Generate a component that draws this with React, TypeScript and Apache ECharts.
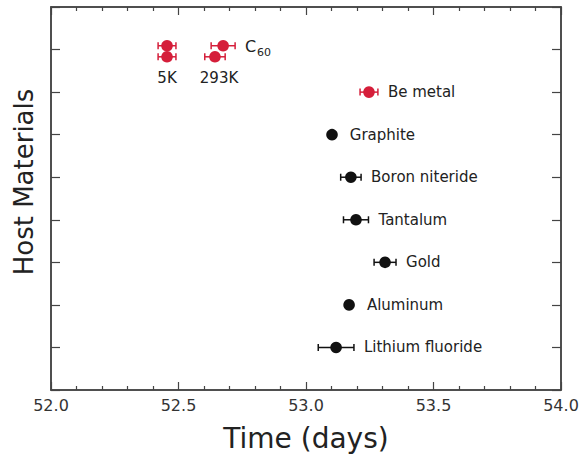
import React, { useEffect, useRef } from "react";
import * as echarts from "echarts";

// Host materials (rows 1..7 on the value axis, bottom to top)
const materialNames = ["Lithium fluoride", "Aluminum", "Gold", "Tantalum", "Boron niteride", "Graphite", "Be metal"];
const materialRows = [1, 2, 3, 4, 5, 6, 7];
const materialTimes = [53.118, 53.169, 53.31, 53.196, 53.176, 53.102, 53.247];
const materialErrors = [0.07, 0.012, 0.043, 0.049, 0.04, 0.012, 0.035];
const highlightedMaterials = ["Be metal"];

// C60 measurements (row 8)
const c60Temps = ["5K", "5K", "293K", "293K"];
const c60Times = [52.455, 52.455, 52.675, 52.643];
const c60Rows = [8.09, 7.83, 8.09, 7.83];
const c60Errors = [0.035, 0.035, 0.047, 0.04];

const xTicks = { min: 52, max: 54, interval: 0.5 };
const yTicks = { min: 0, max: 9, interval: 1 };

const RED = "#d51e3a";
const BLACK = "#111111";
const FONT = "DejaVu Sans";
const AXIS = "#444444";

const GRID = { left: 51, right: 22, top: 7, bottom: 71 };

export default function App() {
  const ref = useRef<HTMLDivElement>(null);
  useEffect(() => {
    if (!ref.current) return;
    const chart = echarts.init(ref.current, null, { renderer: "svg" });

    const R = 5.8;
    const errPoint = (color: string, labelOf: (i: number) => string | null) => (params: any, api: any) => {
      const x = api.value(0), y = api.value(1), err = api.value(2);
      const c = api.coord([x, y]);
      const l = api.coord([x - err, y]);
      const r = api.coord([x + err, y]);
      const children: any[] = [];
      const ls = { stroke: color, lineWidth: 1.5 };
      if (r[0] - l[0] > 2 * R) {
        children.push({ type: "line", shape: { x1: l[0], y1: c[1], x2: r[0], y2: c[1] }, style: ls });
        children.push({ type: "line", shape: { x1: l[0], y1: c[1] - 3.5, x2: l[0], y2: c[1] + 3.5 }, style: ls });
        children.push({ type: "line", shape: { x1: r[0], y1: c[1] - 3.5, x2: r[0], y2: c[1] + 3.5 }, style: ls });
      }
      children.push({ type: "circle", shape: { cx: c[0], cy: c[1], r: R }, style: { fill: color } });
      const label = labelOf(params.dataIndex);
      if (label) {
        const end = Math.max(r[0], c[0] + R + 2);
        children.push({
          type: "text",
          x: end + 10,
          y: c[1],
          style: { text: label, fill: "#222", fontSize: 15, fontFamily: FONT, align: "left", verticalAlign: "middle" },
        });
      }
      return { type: "group", children };
    };

    const blackIdx = materialNames.map((n, i) => i).filter((i) => !highlightedMaterials.includes(materialNames[i]));
    const redIdx = materialNames.map((n, i) => i).filter((i) => highlightedMaterials.includes(materialNames[i]));

    // C60 label sits at the right-most error bar end
    let c60LabelIdx = 0;
    c60Times.forEach((t, i) => {
      if (t + c60Errors[i] > c60Times[c60LabelIdx] + c60Errors[c60LabelIdx]) c60LabelIdx = i;
    });

    const tempNames = Array.from(new Set(c60Temps));
    const tempData = tempNames.map((t) => {
      const idx = c60Temps.map((v, i) => i).filter((i) => c60Temps[i] === t);
      const mx = idx.reduce((s, i) => s + c60Times[i], 0) / idx.length;
      const my = Math.min(...idx.map((i) => c60Rows[i]));
      return [mx, my];
    });

    const mkX = (pos: string) => ({
      type: "value",
      position: pos,
      min: xTicks.min,
      max: xTicks.max,
      interval: xTicks.interval,
      axisLine: { show: true, onZero: false, lineStyle: { color: AXIS, width: 1.5 } },
      axisTick: { show: true, inside: true, length: 8, lineStyle: { color: AXIS, width: 1.2 } },
      minorTick: { show: true, splitNumber: 5, length: 4, lineStyle: { color: AXIS, width: 1.2 } },
      splitLine: { show: false },
      minorSplitLine: { show: false },
    });
    const mkY = (pos: string) => ({
      type: "value",
      position: pos,
      min: yTicks.min,
      max: yTicks.max,
      interval: yTicks.interval,
      axisLine: { show: true, onZero: false, lineStyle: { color: AXIS, width: 1.5 } },
      axisTick: { show: true, inside: true, length: 9, lineStyle: { color: AXIS, width: 1.2 } },
      axisLabel: { show: false },
      splitLine: { show: false },
    });

    chart.setOption({
      animation: false,
      backgroundColor: "#ffffff",
      grid: { ...GRID, show: true, borderColor: AXIS, borderWidth: 1.5 },
      xAxis: [
        {
          ...mkX("bottom"),
          axisLabel: { show: true, formatter: (v: number) => v.toFixed(1), fontSize: 16, fontFamily: FONT, color: "#333", margin: 7 },
          name: "Time (days)",
          nameLocation: "middle",
          nameGap: 34,
          nameTextStyle: { fontSize: 28, fontFamily: FONT, color: "#222" },
        },
        { ...mkX("top"), axisLabel: { show: false } },
      ],
      yAxis: [mkY("left"), mkY("right")],
      graphic: [
        {
          type: "text",
          x: 24,
          y: 182,
          rotation: Math.PI / 2,
          style: { text: "Host Materials", fontSize: 26, fontFamily: FONT, fill: "#222", align: "center", verticalAlign: "middle" },
        },
      ],
      series: [
        {
          type: "custom",
          name: "materials",
          renderItem: errPoint(BLACK, (i) => materialNames[blackIdx[i]]),
          data: blackIdx.map((i) => [materialTimes[i], materialRows[i], materialErrors[i]]),
        },
        {
          type: "custom",
          name: "highlighted",
          renderItem: errPoint(RED, (i) => materialNames[redIdx[i]]),
          data: redIdx.map((i) => [materialTimes[i], materialRows[i], materialErrors[i]]),
        },
        {
          type: "custom",
          name: "C60",
          renderItem: (params: any, api: any) => {
            const g: any = errPoint(RED, () => null)(params, api);
            if (params.dataIndex === c60LabelIdx) {
              const x = api.value(0), y = api.value(1), err = api.value(2);
              const r = api.coord([x + err, y]);
              g.children.push({ type: "text", x: r[0] + 10, y: r[1] + 1, style: { text: "C", fill: "#222", fontSize: 16, fontFamily: FONT, align: "left", verticalAlign: "middle" } });
              g.children.push({ type: "text", x: r[0] + 22, y: r[1] + 7, style: { text: "60", fill: "#222", fontSize: 11, fontFamily: FONT, align: "left", verticalAlign: "middle" } });
            }
            return g;
          },
          data: c60Times.map((t, i) => [t, c60Rows[i], c60Errors[i]]),
        },
        {
          type: "custom",
          name: "temperatures",
          renderItem: (params: any, api: any) => {
            const c = api.coord([api.value(0), api.value(1)]);
            return { type: "text", x: c[0], y: c[1] + 21, style: { text: tempNames[params.dataIndex], fill: "#222", fontSize: 15, fontFamily: FONT, align: "center", verticalAlign: "middle" } };
          },
          data: tempData,
        },
      ],
    });
    return () => chart.dispose();
  }, []);
  return <div ref={ref} style={{ position: "fixed", left: 0, top: 0, width: 583, height: 461 }} />;
}
